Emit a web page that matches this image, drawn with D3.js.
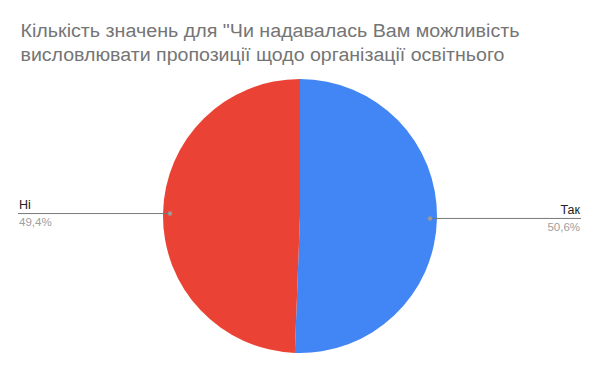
<!DOCTYPE html>
<html><head><meta charset="utf-8">
<script src="https://cdn.jsdelivr.net/npm/d3@7"></script>
<style>body{margin:0;background:#fff}svg{display:block}</style>
</head><body>
<script>
const titleLines = ["Кількість значень для \"Чи надавалась Вам можливість", "висловлювати пропозиції щодо організації освітнього"];
const titleWidths = [499, 484];
const categories = ["Так", "Ні"];
const values = [50.6, 49.4];
const percentLabels = ["50,6%", "49,4%"];
const colors = ["#4285f4", "#ea4335"];

const W = 600, H = 371;
const svg = d3.select("body").append("svg").attr("width", W).attr("height", H);
svg.append("rect").attr("width", W).attr("height", H).attr("fill", "#fff");

svg.selectAll("text.title").data(titleLines).join("text")
  .attr("class", "title")
  .attr("x", 20.5).attr("y", (d, i) => 37 + i * 24)
  .attr("font-family", "Arial, 'Liberation Sans', sans-serif").attr("font-size", 18)
  .attr("textLength", (d, i) => titleWidths[i]).attr("lengthAdjust", "spacingAndGlyphs")
  .attr("fill", "#757575").text(d => d);

const cx = 300, cy = 216, r = 137;
const g = svg.append("g").attr("transform", `translate(${cx},${cy})`);
const pie = d3.pie().sort(null).value(d => d)(values);
const arc = d3.arc().innerRadius(0).outerRadius(r);
g.selectAll("path").data(pie).join("path")
  .attr("d", arc).attr("fill", (d, i) => colors[i]);

pie.forEach((d, i) => {
  const mid = (d.startAngle + d.endAngle) / 2;
  const px = cx + 130 * Math.sin(mid), py = cy - 130 * Math.cos(mid);
  const right = Math.sin(mid) > 0;
  const ex = right ? 581 : 18;
  svg.append("line").attr("x1", px).attr("y1", py).attr("x2", ex).attr("y2", py)
    .attr("stroke", "#777").attr("stroke-width", 1);
  svg.append("circle").attr("cx", px).attr("cy", py).attr("r", 2.2).attr("fill", "#999");
  svg.append("text").attr("x", right ? 580 : 19).attr("y", py - 4.5)
    .attr("text-anchor", right ? "end" : "start")
    .attr("font-family", "Arial, 'Liberation Sans', sans-serif").attr("font-size", 12.5)
    .attr("fill", "#222").text(categories[i]);
  svg.append("text").attr("x", right ? 580 : 19).attr("y", py + 12.5)
    .attr("text-anchor", right ? "end" : "start")
    .attr("font-family", "Arial, 'Liberation Sans', sans-serif").attr("font-size", 11.5)
    .attr("fill", "#9e9e9e").text(percentLabels[i]);
});
</script>
</body></html>
